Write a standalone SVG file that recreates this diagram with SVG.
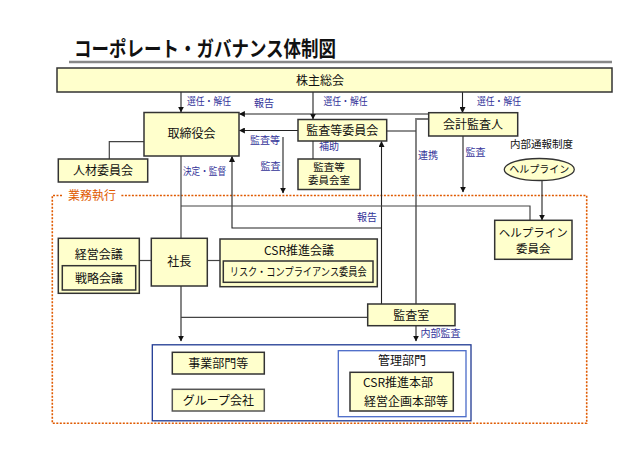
<svg xmlns="http://www.w3.org/2000/svg" width="635" height="449" viewBox="0 0 635 449">
<defs>
<style>
text{font-family:"Noto Sans CJK JP","Noto Sans",sans-serif;}
.n{fill:#FFFFCC;stroke:#333;stroke-width:1.5;}
.t{font-size:12px;fill:#111;text-anchor:middle;}
.s{font-size:11px;fill:#111;text-anchor:middle;}
.l{font-size:10px;fill:#333399;text-anchor:middle;}
.c{fill:none;stroke:#444;stroke-width:1.2;}
.g{fill:none;stroke:#777;stroke-width:1.8;}
.a{fill:none;stroke:#222;stroke-width:1.1;marker-end:url(#ah);}
</style>
<marker id="ah" viewBox="0 0 10 10" refX="9" refY="5" markerWidth="6" markerHeight="6" markerUnits="userSpaceOnUse" orient="auto">
<path d="M0,0 L10,5 L0,10 z" fill="#111"/>
</marker>
</defs>
<rect width="635" height="449" fill="#fff"/>

<g id="title">
<text x="74" y="56" font-size="21" font-weight="bold" fill="#111" textLength="262" lengthAdjust="spacingAndGlyphs">コーポレート・ガバナンス体制図</text>
<line x1="69" y1="62" x2="612" y2="62" stroke="#888" stroke-width="2.5"/>
</g>

<g id="region">
<path d="M62,195.5 H52.3 V423.3 H586.7 V195.5 H121" fill="none" stroke="#E05A00" stroke-width="1.6" stroke-dasharray="2,1.5"/>
<text x="92" y="200" font-size="12" fill="#E05A00" text-anchor="middle">業務執行</text>
</g>

<g id="connectors">
<path class="a" d="M181,92 V112"/>
<path class="a" d="M313,92 V119"/>
<path class="a" d="M462.5,92 V112.5"/>
<path class="a" d="M428.7,114 H239.5"/>
<path class="a" d="M298,130.5 H239.5"/>
<path class="a" d="M283,137 V193"/>
<path class="a" d="M463,136 V192"/>
<path class="a" d="M542,180.5 V220"/>
<path class="a" d="M381.5,304 V141.5"/>
<path class="a" d="M381.5,228 H232 V156.5"/>
<path class="c" d="M181,156 V238"/>
<path class="a" d="M181,286 V341"/>
<path class="g" d="M428.7,119 H416 V304"/>
<path class="c" d="M386.7,131 H416"/>
<path class="c" d="M181,206 H530 V220"/>
<path class="c" d="M181,317.3 H367.7"/>
<path class="a" d="M416,325.7 V341"/>
<path class="c" d="M144,141.7 H109.3 V159"/>
<path class="c" d="M313,141 V159"/>
<path class="c" d="M139.3,260.5 H151.3"/>
<path class="c" d="M207.3,260.5 H220"/>
<path class="a" d="M338.3,364 H266"/>
<path class="a" d="M298.3,364 V398.3 H266"/>
</g>

<g id="labels">
<text class="l" x="209" y="104.5" textLength="44" lengthAdjust="spacingAndGlyphs">選任・解任</text>
<text class="l" x="264" y="106.5">報告</text>
<text class="l" x="345.5" y="104.5" textLength="44" lengthAdjust="spacingAndGlyphs">選任・解任</text>
<text class="l" x="499" y="104.5" textLength="44" lengthAdjust="spacingAndGlyphs">選任・解任</text>
<text class="l" x="265" y="143.5">監査等</text>
<text class="l" x="270.5" y="169.5">監査</text>
<text class="l" x="329" y="149.5">補助</text>
<text class="l" x="428" y="158.5">連携</text>
<text class="l" x="475.5" y="156">監査</text>
<text class="l" x="204.5" y="174.5" textLength="43" lengthAdjust="spacingAndGlyphs">決定・監督</text>
<text class="l" x="367" y="221">報告</text>
<text class="l" x="440.5" y="337">内部監査</text>
<text x="541.5" y="148" font-size="10.5" fill="#111" text-anchor="middle">内部通報制度</text>
<text x="314" y="380" font-size="9" fill="#444" text-anchor="middle">指導</text>
<text x="314" y="392" font-size="9" fill="#444" text-anchor="middle">支援</text>
<text x="314" y="404" font-size="9" fill="#444" text-anchor="middle">要請</text>
</g>

<g id="kabunushi">
<rect class="n" x="57" y="68" width="555" height="24"/>
<text class="t" x="320" y="85">株主総会</text>
</g>
<g id="torishimariyaku">
<rect class="n" x="144" y="112.5" width="95" height="43.5"/>
<text class="t" x="191.5" y="138">取締役会</text>
</g>
<g id="kansatou">
<rect class="n" x="298" y="119.5" width="88.7" height="21.5"/>
<text class="t" x="342.3" y="134.5">監査等委員会</text>
</g>
<g id="kaikei">
<rect class="n" x="428.7" y="112.7" width="89" height="23.3"/>
<text class="t" x="473" y="129">会計監査人</text>
</g>
<g id="kansatou-shitsu">
<rect class="n" x="298" y="159" width="62" height="30.5"/>
<text x="329" y="170.5" font-size="10.5" fill="#111" text-anchor="middle">監査等</text>
<text x="329" y="184" font-size="10.5" fill="#111" text-anchor="middle">委員会室</text>
</g>
<g id="jinzai">
<rect class="n" x="58.3" y="159" width="89.4" height="23"/>
<text class="t" x="103" y="175">人材委員会</text>
</g>
<g id="helpline">
<ellipse cx="539.3" cy="169.5" rx="35" ry="11" fill="#FFFFCC" stroke="#333" stroke-width="1.3"/>
<text x="539.3" y="173" font-size="10" fill="#111" text-anchor="middle">ヘルプライン</text>
</g>
<g id="helpline-iinkai">
<rect class="n" x="494.7" y="220.3" width="77.3" height="39"/>
<text x="533.3" y="236.5" font-size="11.5" fill="#111" text-anchor="middle">ヘルプライン</text>
<text x="533.3" y="252.5" font-size="11.5" fill="#111" text-anchor="middle">委員会</text>
</g>
<g id="keiei">
<rect class="n" x="58.3" y="238.3" width="81" height="55"/>
<text class="t" x="98.8" y="259">経営会議</text>
<rect class="n" x="62.3" y="265.7" width="73.4" height="24.3"/>
<text class="t" x="99" y="283">戦略会議</text>
</g>
<g id="shacho">
<rect class="n" x="151.3" y="238.3" width="56" height="47.7"/>
<text class="t" x="179.3" y="266">社長</text>
</g>
<g id="csr">
<rect class="n" x="220" y="239" width="157.3" height="47.7"/>
<text class="t" x="299" y="254.5">CSR推進会議</text>
<rect class="n" x="223.3" y="261" width="149.7" height="21.3"/>
<text class="s" x="298.2" y="276" textLength="137" lengthAdjust="spacingAndGlyphs">リスク・コンプライアンス委員会</text>
</g>
<g id="kansashitsu">
<rect class="n" x="367.7" y="304" width="87.3" height="21.7"/>
<text class="t" x="411.3" y="319.5">監査室</text>
</g>
<g id="group-area">
<rect x="152.3" y="344.8" width="318.7" height="76" fill="#fff" stroke="#1F3A93" stroke-width="1.3"/>
</g>
<g id="jigyo">
<rect class="n" x="172.3" y="352.3" width="92" height="21.7"/>
<text class="t" x="218.3" y="367.5">事業部門等</text>
</g>
<g id="group">
<rect class="n" x="172.3" y="389.3" width="92" height="21.7" style="stroke:#555"/>
<text class="t" x="218.3" y="404.5">グループ会社</text>
</g>
<g id="kanri">
<rect x="338.3" y="350.7" width="127.7" height="66" fill="#fff" stroke="#4A6AC8" stroke-width="1.3"/>
<text class="t" x="402" y="365">管理部門</text>
<rect class="n" x="350" y="372.3" width="103.3" height="38.7"/>
<text x="363" y="387" font-size="12" fill="#111">CSR推進本部</text>
<text x="364" y="406" font-size="12" fill="#111">経営企画本部等</text>
</g>
</svg>
